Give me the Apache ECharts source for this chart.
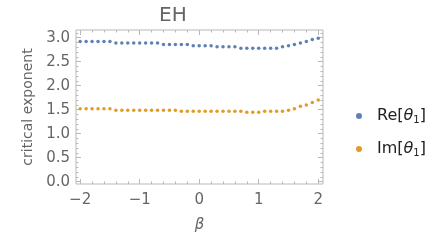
<!DOCTYPE html>
<html>
<head>
<meta charset="utf-8">
<script src="https://cdn.jsdelivr.net/npm/echarts@6/dist/echarts.min.js"></script>
<style>html,body{margin:0;padding:0;background:#fff}#c{width:436px;height:240px}</style>
</head>
<body>
<div id="c"></div>
<script>
const beta = [-2.0,-1.9,-1.8,-1.7,-1.6,-1.5,-1.4,-1.3,-1.2,-1.1,-1.0,-0.9,-0.8,-0.7,-0.6,-0.5,-0.4,-0.3,-0.2,-0.1,0.0,
  0.1,0.2,0.3,0.4,0.5,0.6,0.7,0.8,0.9,1.0,1.1,1.2,1.3,1.4,1.5,1.6,1.7,1.8,1.9,2.0];
const reTheta = [2.92,2.92,2.92,2.92,2.92,2.92,2.89,2.89,2.89,2.89,2.89,2.89,2.89,2.89,2.86,2.86,2.86,2.86,2.86,2.83,2.83,
  2.83,2.83,2.81,2.81,2.81,2.81,2.78,2.78,2.78,2.78,2.78,2.78,2.78,2.81,2.83,2.86,2.89,2.92,2.96,2.99];
const imTheta = [1.52,1.52,1.52,1.52,1.52,1.52,1.49,1.49,1.49,1.49,1.49,1.49,1.49,1.49,1.49,1.49,1.49,1.47,1.47,1.47,1.47,
  1.47,1.47,1.47,1.47,1.47,1.47,1.47,1.445,1.445,1.445,1.47,1.47,1.47,1.47,1.49,1.52,1.57,1.60,1.65,1.70];
const xTicks = [-2,-1,0,1,2];
const xMinor = [-1.8,-1.6,-1.4,-1.2,-0.8,-0.6,-0.4,-0.2,0.2,0.4,0.6,0.8,1.2,1.4,1.6,1.8];
const yTicks = [0,0.5,1,1.5,2,2.5,3];
const yMinor = [0.1,0.2,0.3,0.4,0.6,0.7,0.8,0.9,1.1,1.2,1.3,1.4,1.6,1.7,1.8,1.9,2.1,2.2,2.3,2.4,2.6,2.7,2.8,2.9,3.1];

const FONT = 'DejaVu Sans';
const FRAME = '#b8b8b8';
const TXT = '#666666';
const XMIN = -2.07, XMAX = 2.08, YMIN = -0.048, YMAX = 3.16;

function xAx(pos, vals, len, labels) {
  return {
    type: 'value', position: pos, min: XMIN, max: XMAX,
    axisLine: {show: false, onZero: false}, splitLine: {show: false},
    axisTick: {show: true, inside: true, length: len, customValues: vals, lineStyle: {color: FRAME, width: 1}},
    axisLabel: labels ? {show: true, customValues: vals, margin: 9, fontFamily: FONT, fontSize: 15, color: TXT,
      formatter: v => (v < 0 ? '\u2212' + Math.abs(v) : String(v))} : {show: false}
  };
}
function yAx(pos, vals, len, labels) {
  return {
    type: 'value', position: pos, min: YMIN, max: YMAX,
    axisLine: {show: false, onZero: false}, splitLine: {show: false},
    axisTick: {show: true, inside: true, length: len, customValues: vals, lineStyle: {color: FRAME, width: 1}},
    axisLabel: labels ? {show: true, customValues: vals, margin: 6, fontFamily: FONT, fontSize: 15, color: TXT,
      formatter: v => v.toFixed(1)} : {show: false}
  };
}

const xAxes = [xAx('bottom', xTicks, 5, true), xAx('bottom', xMinor, 2.5, false), xAx('top', xTicks, 5, false), xAx('top', xMinor, 2.5, false)];
xAxes[0].name = 'β';
xAxes[0].nameLocation = 'middle';
xAxes[0].nameGap = 34;
xAxes[0].nameTextStyle = {fontFamily: FONT, fontSize: 15, fontStyle: 'italic', color: TXT};
const yAxes = [yAx('left', yTicks, 5, true), yAx('left', yMinor, 2.5, false), yAx('right', yTicks, 5, false), yAx('right', yMinor, 2.5, false)];
yAxes[0].name = 'critical exponent';
yAxes[0].nameLocation = 'middle';
yAxes[0].nameGap = 39;
yAxes[0].nameTextStyle = {fontFamily: FONT, fontSize: 14, color: TXT};

function pairs(ys) { return beta.map((b, i) => [b, ys[i]]); }

const chart = echarts.init(document.getElementById('c'), null, {renderer: 'canvas'});
chart.setOption({
  animation: false,
  backgroundColor: '#fff',
  title: {text: 'EH', left: 154, top: 1, textStyle: {fontFamily: FONT, fontSize: 20, fontWeight: 'normal', color: TXT}},
  grid: {left: 76, right: 113, top: 30, bottom: 56, show: true, borderColor: FRAME, borderWidth: 1, backgroundColor: 'transparent'},
  xAxis: xAxes,
  yAxis: yAxes,
  legend: {
    orient: 'vertical', left: 356, top: 108, itemWidth: 6, itemHeight: 6, itemGap: 16, icon: 'circle',
    padding: 0,
    data: ['Re', 'Im'],
    formatter: name => '{n|' + name + '[}{t|θ}{s|1}{n|]}',
    textStyle: {
      width: 54,
      overflow: 'none',
      padding: [0, 0, 0, 10],
      rich: {
        n: {fontFamily: FONT, fontSize: 16, color: '#222', lineHeight: 18},
        t: {fontFamily: FONT, fontSize: 16, fontStyle: 'italic', color: '#222', lineHeight: 18},
        s: {fontFamily: FONT, fontSize: 10, color: '#222', lineHeight: 11, verticalAlign: 'bottom'}
      }
    }
  },
  series: [
    {name: 'Re', type: 'scatter', data: pairs(reTheta), symbolSize: 3.5, itemStyle: {color: '#5E81B5', opacity: 1}},
    {name: 'Im', type: 'scatter', data: pairs(imTheta), symbolSize: 3.5, itemStyle: {color: '#E19C24', opacity: 1}}
  ]
});
</script>
</body>
</html>
